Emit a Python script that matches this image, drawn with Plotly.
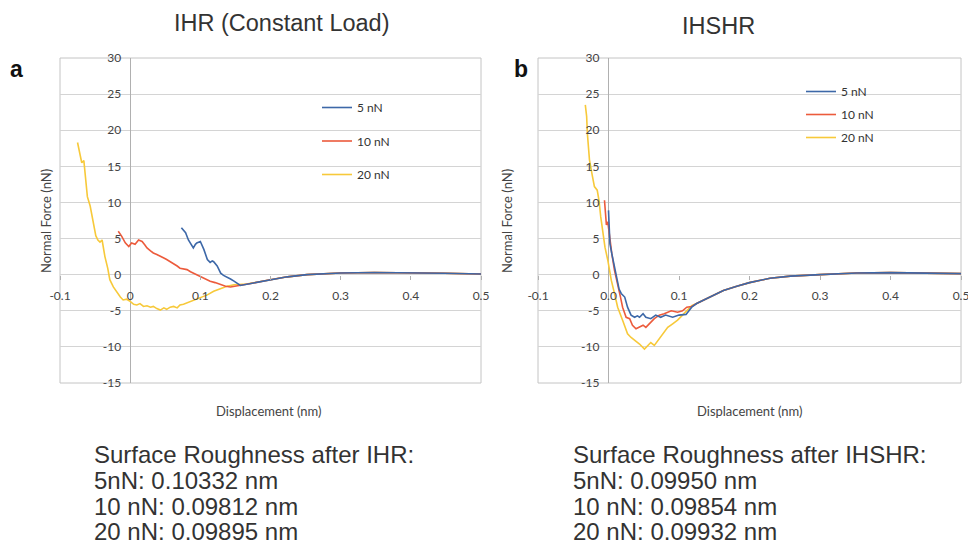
import plotly.graph_objects as go

# ---------------- data ----------------
# Panel a: IHR (Constant Load)
ihr_tail_x = [0.176, 0.200, 0.224, 0.252, 0.300, 0.348, 0.400, 0.448, 0.500]
ihr_tail_y = [-1.15, -0.70, -0.30, 0.00, 0.23, 0.30, 0.30, 0.20, 0.10]

ihr_5_x = [0.073, 0.077, 0.079, 0.083, 0.087, 0.090, 0.093, 0.095, 0.100, 0.103, 0.105,
           0.110, 0.114, 0.117, 0.119, 0.124, 0.129, 0.133, 0.138, 0.143, 0.148, 0.153, 0.157]
ihr_5_y = [6.5, 6.1, 5.8, 4.8, 4.1, 3.7, 4.2, 4.4, 4.6, 4.0, 3.5,
           2.1, 1.7, 1.9, 1.8, 1.2, 0.2, -0.1, -0.3, -0.6, -0.9, -1.2, -1.5]

ihr_10_x = [-0.017, -0.014, -0.012, -0.007, -0.002, 0.002, 0.007, 0.012, 0.017, 0.021, 0.024,
            0.029, 0.033, 0.038, 0.043, 0.048, 0.052, 0.057, 0.062, 0.067, 0.071, 0.076,
            0.081, 0.086, 0.090, 0.095, 0.100, 0.107, 0.114, 0.121, 0.129, 0.136, 0.143, 0.150, 0.157]
ihr_10_y = [6.0, 5.6, 5.3, 4.4, 3.9, 4.4, 4.2, 4.8, 4.6, 4.1, 3.7,
            3.3, 3.0, 2.8, 2.5, 2.3, 2.1, 1.8, 1.6, 1.2, 0.9, 0.8,
            0.7, 0.4, 0.2, 0.0, -0.3, -0.6, -0.9, -1.1, -1.4, -1.6, -1.7, -1.6, -1.5]

ihr_20_x = [-0.075, -0.072, -0.069, -0.066, -0.063, -0.061, -0.057, -0.054, -0.052, -0.049,
            -0.046, -0.043, -0.040, -0.038, -0.036, -0.032, -0.029, -0.024, -0.019, -0.014,
            -0.010, -0.005, 0.000, 0.005, 0.0095, 0.014, 0.019, 0.024, 0.029, 0.033, 0.038,
            0.043, 0.048, 0.052, 0.057, 0.062, 0.067, 0.071, 0.076, 0.081, 0.090, 0.100,
            0.110, 0.119, 0.129, 0.138, 0.148, 0.157, 0.166]
ihr_20_y = [18.3, 17.0, 15.5, 15.8, 12.9, 10.8, 9.5, 7.8, 6.7, 5.4,
            4.8, 4.5, 4.8, 3.6, 2.5, 0.9, -0.7, -1.7, -2.5, -3.1,
            -3.5, -3.4, -3.7, -4.1, -4.2, -4.0, -4.4, -4.3, -4.5, -4.4, -4.7,
            -4.9, -4.6, -4.8, -4.5, -4.4, -4.6, -4.2, -4.1, -3.9, -3.6, -3.2,
            -2.8, -2.3, -1.9, -1.6, -1.4, -1.4, -1.3]

# Panel b: IHSHR
ihshr_tail_x = [0.144, 0.163, 0.182, 0.200, 0.229, 0.258, 0.300, 0.352, 0.400, 0.446, 0.500]
ihshr_tail_y = [-3.1, -2.2, -1.6, -1.1, -0.5, -0.2, 0.0, 0.23, 0.28, 0.23, 0.14]

ihshr_5_x = [0.000, 0.001, 0.002, 0.0047, 0.0085, 0.012, 0.015, 0.018, 0.023, 0.027, 0.032,
             0.037, 0.041, 0.044, 0.049, 0.053, 0.057, 0.060, 0.067, 0.074, 0.081, 0.091,
             0.100, 0.110, 0.118, 0.125]
ihshr_5_y = [8.9, 6.6, 4.3, 2.9, 1.1, -0.8, -2.0, -2.6, -3.1, -4.5, -5.6,
             -5.9, -5.7, -5.9, -5.4, -5.9, -6.0, -6.1, -5.6, -5.9, -5.6, -5.9,
             -5.6, -5.5, -4.5, -4.0]

ihshr_10_x = [-0.0057, -0.0047, -0.003, -0.001, 0.0014, 0.0047, 0.0085, 0.012, 0.017, 0.020,
              0.025, 0.030, 0.034, 0.039, 0.044, 0.049, 0.053, 0.058, 0.065, 0.072, 0.079,
              0.089, 0.098, 0.105, 0.111, 0.118, 0.125]
ihshr_10_y = [10.3, 8.5, 6.9, 7.3, 5.2, 2.9, 0.6, -0.8, -3.1, -4.5,
              -5.9, -6.1, -7.0, -7.5, -7.3, -7.0, -7.3, -6.8, -6.1, -5.6, -5.4,
              -5.0, -5.2, -5.0, -4.5, -4.4, -4.0]

ihshr_20_x = [-0.0329, -0.031, -0.030, -0.029, -0.027, -0.0235, -0.020, -0.016, -0.0135, -0.011,
              -0.008, -0.005, -0.001, 0.004, 0.0085, 0.013, 0.020, 0.027, 0.032, 0.037, 0.044,
              0.051, 0.056, 0.060, 0.065, 0.070, 0.077, 0.084, 0.091, 0.098, 0.105, 0.111,
              0.118, 0.125]
ihshr_20_y = [23.5, 21.9, 19.6, 17.7, 15.9, 14.0, 12.2, 11.7, 10.3, 8.0,
              5.7, 3.8, 2.0, -0.8, -2.6, -4.5, -6.3, -8.2, -8.7, -9.1, -9.6,
              -10.3, -9.8, -9.4, -9.8, -9.1, -8.2, -7.3, -6.8, -6.3, -5.6, -5.0,
              -4.3, -4.0]

series_names = ["5 nN", "10 nN", "20 nN"]
series_colors = ["#3d68a8", "#ec5b3c", "#f7c93a"]

x_ticks = [-0.1, 0, 0.1, 0.2, 0.3, 0.4, 0.5]
x_tick_labels_a = ["-0.1", "0", "0.1", "0.2", "0.3", "0.4", "0.5"]
x_tick_labels_b = ["-0.1", "0.0", "0.1", "0.2", "0.3", "0.4", "0.5"]
y_ticks = [-15, -10, -5, 0, 5, 10, 15, 20, 25, 30]
y_tick_labels = ["-15", "-10", "-5", "0", "5", "10", "15", "20", "25", "30"]

panel_titles = ["IHR (Constant Load)", "IHSHR"]
panel_letters = ["a", "b"]
x_title = "Displacement (nm)"
y_title = "Normal Force (nN)"

rough_a = ["Surface Roughness after IHR:", "5nN: 0.10332 nm", "10 nN: 0.09812 nm", "20 nN: 0.09895 nm"]
rough_b = ["Surface Roughness after IHSHR:", "5nN: 0.09950 nm", "10 nN: 0.09854 nm", "20 nN: 0.09932 nm"]

# ---------------- layout geometry ----------------
W, H = 968, 545
def px(x):
    return x / W
def py(y):
    return 1 - y / H

dom_a_x = [px(60), px(481)]
dom_b_x = [px(538), px(961)]
dom_y = [py(383), py(58)]
XR = [-0.1, 0.5]
YR = [-15, 30]

def frac(v, rng, dom):
    return dom[0] + (dom[1] - dom[0]) * (v - rng[0]) / (rng[1] - rng[0])

fig = go.Figure()

panels = [
    ("x", "y", "legend", [(ihr_5_x + ihr_tail_x, ihr_5_y + ihr_tail_y),
                          (ihr_10_x + ihr_tail_x, ihr_10_y + ihr_tail_y),
                          (ihr_20_x + ihr_tail_x[1:], ihr_20_y + ihr_tail_y[1:])]),
    ("x2", "y2", "legend2", [(ihshr_5_x + ihshr_tail_x, ihshr_5_y + ihshr_tail_y),
                             (ihshr_10_x + ihshr_tail_x, ihshr_10_y + ihshr_tail_y),
                             (ihshr_20_x + ihshr_tail_x, ihshr_20_y + ihshr_tail_y)]),
]
for xa, ya, lg, data in panels:
    for i in [2, 1, 0]:
        xs, ys = data[i]
        fig.add_trace(go.Scatter(
            x=xs, y=ys, mode="lines", name=series_names[i],
            line=dict(color=series_colors[i], width=1.6),
            xaxis=xa, yaxis=ya, legend=lg, legendgroup=lg + str(i),
            legendrank=i + 1,
        ))

tickfont = dict(family="Lato, Open Sans, sans-serif", size=12, color="#444444")

def xaxis(dom, ydom, labels):
    return dict(domain=dom, range=XR, tickvals=x_ticks, ticktext=labels,
                showgrid=False, zeroline=True, zerolinecolor="#b0b0b0", zerolinewidth=1,
                showline=False, ticks="outside", ticklen=4, tickcolor="#b0b0b0", tickwidth=1,
                tickfont=tickfont, automargin=False, ticklabeloverflow="allow",
                anchor="free", position=frac(0, YR, ydom), ticklabelstandoff=6,
                fixedrange=True)

def yaxis(dom, xdom):
    return dict(domain=dom, range=YR, tickvals=y_ticks, ticktext=y_tick_labels,
                showgrid=True, gridcolor="#d4d4d4", gridwidth=1,
                zeroline=False, showline=False, ticks="", tickfont=tickfont, automargin=False,
                ticklabeloverflow="allow",
                anchor="free", position=frac(0, XR, xdom), ticklabelstandoff=9,
                fixedrange=True)

legfont = dict(family="Lato, Open Sans, sans-serif", size=12, color="#333333")
fig.update_layout(
    template="none",
    width=W, height=H, margin=dict(l=0, r=0, t=0, b=0, autoexpand=False),
    paper_bgcolor="white", plot_bgcolor="white",
    showlegend=True,
    xaxis=xaxis(dom_a_x, dom_y, x_tick_labels_a),
    yaxis=yaxis(dom_y, dom_a_x),
    xaxis2=xaxis(dom_b_x, dom_y, x_tick_labels_b),
    yaxis2=yaxis(dom_y, dom_b_x),
    legend=dict(x=px(317), y=py(93), xanchor="left", yanchor="top",
                bgcolor="rgba(0,0,0,0)", borderwidth=0, tracegroupgap=14.5,
                font=legfont, itemclick=False),
    legend2=dict(x=px(801), y=py(77), xanchor="left", yanchor="top",
                 bgcolor="rgba(0,0,0,0)", borderwidth=0, tracegroupgap=4,
                 font=legfont, itemclick=False),
)

shapes = []
for xa, ya in [("x", "y"), ("x2", "y2")]:
    shapes.append(dict(type="rect", xref=xa + " domain", yref=ya + " domain",
                       x0=0, x1=1, y0=0, y1=1, line=dict(color="#c4c4c4", width=1),
                       fillcolor="rgba(0,0,0,0)", layer="below"))
fig.update_layout(shapes=shapes)

ann = []
title_font = dict(family="Liberation Sans, Arial", size=23.5, color="#333333")
ann.append(dict(text=panel_titles[0], x=px(282), y=py(23), xref="paper", yref="paper",
                xanchor="center", yanchor="middle", showarrow=False, font=title_font))
ann.append(dict(text=panel_titles[1], x=px(718.5), y=py(26), xref="paper", yref="paper",
                xanchor="center", yanchor="middle", showarrow=False, font=title_font))
letter_font = dict(family="Liberation Sans, Arial", size=23, color="#111111")
ann.append(dict(text="<b>" + panel_letters[0] + "</b>", x=px(16.5), y=py(69), xref="paper", yref="paper",
                xanchor="center", yanchor="middle", showarrow=False, font=letter_font))
ann.append(dict(text="<b>" + panel_letters[1] + "</b>", x=px(521), y=py(69), xref="paper", yref="paper",
                xanchor="center", yanchor="middle", showarrow=False, font=letter_font))
axt_font = dict(family="Lato, Open Sans, sans-serif", size=13, color="#444444")
for cx in [269, 750]:
    ann.append(dict(text=x_title, x=px(cx), y=py(411), xref="paper", yref="paper",
                    xanchor="center", yanchor="middle", showarrow=False, font=axt_font))
for cx in [46, 507]:
    ann.append(dict(text=y_title, x=px(cx), y=py(221), xref="paper", yref="paper", textangle=-90,
                    xanchor="center", yanchor="middle", showarrow=False, font=axt_font))
line_y = [454, 480.5, 506, 531.5]
rough_font = dict(family="Liberation Sans, Arial", size=24, color="#333333")
for lines, lx in [(rough_a, 92), (rough_b, 571)]:
    for t, ly in zip(lines, line_y):
        ann.append(dict(text=t, x=px(lx), y=py(ly), xref="paper", yref="paper", xanchor="left",
                        yanchor="middle", showarrow=False, font=rough_font))
fig.update_layout(annotations=ann)

fig.write_html("out.html")
